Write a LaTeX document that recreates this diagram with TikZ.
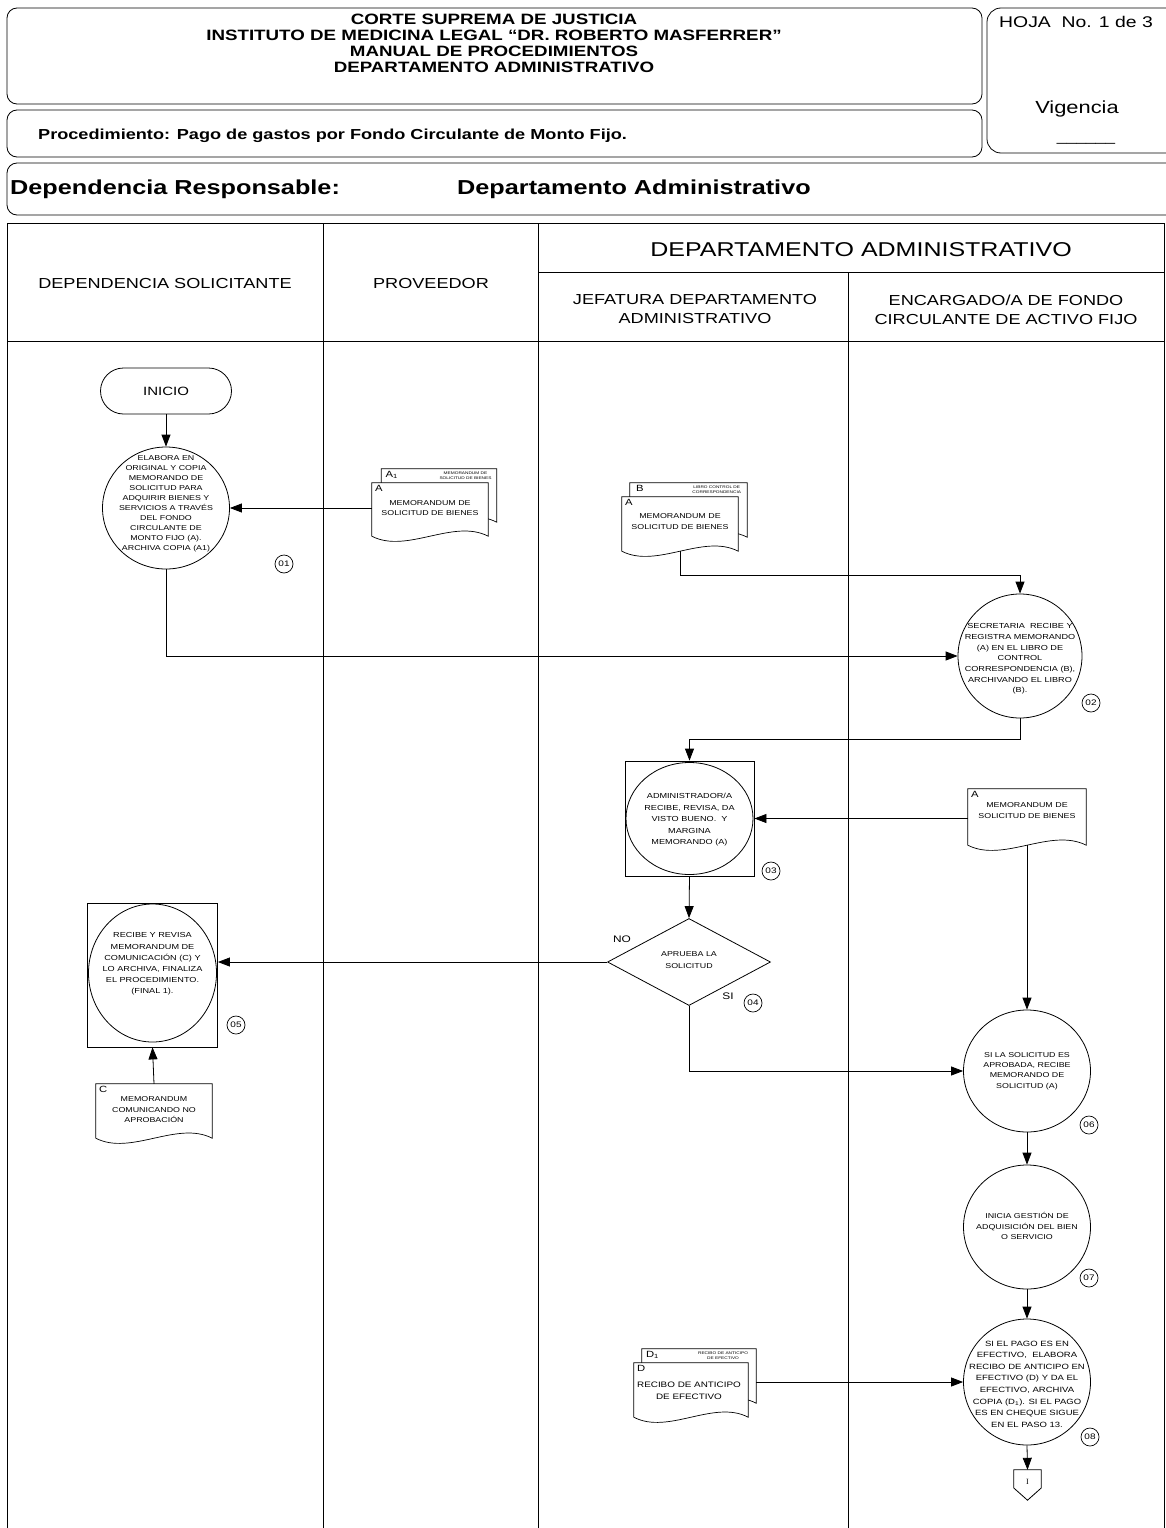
\documentclass[tikz,border=0pt]{standalone}
\usepackage{fontspec}
\setmainfont[FakeStretch=1.25]{Liberation Sans}
\newfontfamily\serifI{Liberation Serif}
\usetikzlibrary{shapes.geometric,arrows.meta,calc}
\newcommand{\fs}[2]{\fontsize{#1}{#2}\selectfont}
\newcommand{\docshape}[1]{\draw[fill=white, line width=0.7pt] (#1.north west) -- (#1.north east) -- (#1.south east)
  .. controls ($(#1.south west)!0.7!(#1.south east)+(0,-18)$) and ($(#1.south west)!0.3!(#1.south east)+(0,18)$) .. (#1.south west) -- cycle;}
\begin{document}
\begin{tikzpicture}[x=1pt,y=-1pt,
  hbox/.style={draw, rounded corners=10pt, line width=0.8pt},
  lane/.style={draw, line width=1pt},
  hdr/.style={align=center, inner sep=0pt, font=\fs{14.5}{19}},
  flow/.style={draw, line width=0.8pt, -{Triangle[length=12pt,width=9pt]}},
  proc/.style={ellipse, draw, line width=0.8pt, inner sep=0pt},
  sqbox/.style={rectangle, draw, line width=0.8pt, inner sep=0pt},
  ptext/.style={align=center, inner sep=0pt, font=\fs{7.1}{10}},
  num/.style={circle, draw, line width=0.7pt, minimum size=18pt, inner sep=0pt, font=\fs{8}{8}},
  docbox/.style={rectangle, inner sep=0pt},
  dtext/.style={align=center, inner sep=0pt, font=\fs{7.1}{10.5}},
  dletter/.style={inner sep=0pt, font=\fs{9}{9}},
  dtiny/.style={align=center, inner sep=0pt, font=\fs{3.8}{4.6}},
  lbl/.style={inner sep=0pt, font=\fs{9.5}{10}}
]
\useasboundingbox (0,0) rectangle (1165,1528);
\fill[white] (0,0) rectangle (1165,1528);

% ---------- header ----------
\draw[hbox] (7,8) rectangle (982,104);
\node[align=center, inner sep=0pt, font=\bfseries\fs{15}{16}] (title) at (494,43) {CORTE SUPREMA DE JUSTICIA\\INSTITUTO DE MEDICINA LEGAL “DR. ROBERTO MASFERRER”\\MANUAL DE PROCEDIMIENTOS\\DEPARTAMENTO ADMINISTRATIVO};
\draw[hbox] (7,110) rectangle (982,157);
\node[anchor=west, inner sep=0pt, font=\bfseries\fs{14.5}{16}] (proc) at (38,136) {Procedimiento: Pago de gastos por Fondo Circulante de Monto Fijo.};
\draw[hbox, rounded corners=14pt] (987,8) rectangle (1180,153);
\node[anchor=west, inner sep=0pt, font=\fs{15.5}{17}] (hoja) at (999,22) {HOJA\ \ No. 1 de 3};
\node[font=\fs{17.5}{20}] (vig) at (1077,109) {Vigencia};
\node[font=\fs{14}{16}] (vigl) at (1086,143) {\_\_\_\_\_\_};
\draw[hbox] (7,163) rectangle (1180,215);
\node[anchor=west, inner sep=0pt, font=\bfseries\fs{20.2}{22}] (depr) at (10,189) {Dependencia Responsable:};
\node[anchor=west, inner sep=0pt, font=\bfseries\fs{20.2}{22}] (depa) at (457,189) {Departamento Administrativo};

% ---------- lanes ----------
\draw[lane] (7,223) rectangle (1164,1540);
\draw[lane] (323,223) -- (323,1540);
\draw[lane] (538,223) -- (538,1540);
\draw[lane] (848,272) -- (848,1540);
\draw[lane] (538,272) -- (1164,272);
\draw[lane] (7,341) -- (1164,341);
\node[hdr, font=\fs{20}{22}] (hdep) at (861,250) {DEPARTAMENTO ADMINISTRATIVO};
\node[hdr] (hsol) at (165,284) {DEPENDENCIA SOLICITANTE};
\node[hdr] (hprov) at (431,284) {PROVEEDOR};
\node[hdr] (hjef) at (695,309) {JEFATURA DEPARTAMENTO\\ADMINISTRATIVO};
\node[hdr] (henc) at (1006,310) {ENCARGADO/A DE FONDO\\CIRCULANTE DE ACTIVO FIJO};

% ---------- step 01 ----------
\node[draw, line width=0.8pt, rounded corners=23pt, minimum width=131pt, minimum height=46pt, font=\fs{12}{12}] (inicio) at (166,391) {INICIO};
\node[proc, minimum width=127pt, minimum height=122pt] (c01) at (166,508) {};
\node[ptext] (t01) at (166,504) {ELABORA EN\\ORIGINAL Y COPIA\\MEMORANDO DE\\SOLICITUD PARA\\ADQUIRIR BIENES Y\\SERVICIOS A TRAVÉS\\DEL FONDO\\CIRCULANTE DE\\MONTO FIJO (A).\\ARCHIVA COPIA (A1)};
\node[num] (n01) at (284,564) {01};

% proveedor documents
\node[docbox, minimum width=115pt, minimum height=53pt] (dA1p) at (439,495.5) {};
\docshape{dA1p}
\node[dletter, anchor=north west] (lA1p) at ($(dA1p.north west)+(4,2)$) {A\textsubscript{1}};
\node[dtiny, anchor=north east] (xA1p) at ($(dA1p.north east)+(-5,3)$) {MEMORANDUM DE\\SOLICITUD DE BIENES};
\node[docbox, minimum width=116pt, minimum height=53pt] (dAp) at (430,509.5) {};
\docshape{dAp}
\node[dletter, anchor=north west] (lAp) at ($(dAp.north west)+(3,2)$) {A};
\node[dtext] (tAp) at ($(dAp.north)+(0,25)$) {MEMORANDUM DE\\SOLICITUD DE BIENES};

% jefatura documents
\node[docbox, minimum width=117pt, minimum height=54pt] (dBb) at (688.5,510) {};
\docshape{dBb}
\node[dletter, anchor=north west] (lBb) at ($(dBb.north west)+(6,2)$) {B};
\node[dtiny, anchor=north east] (xBb) at ($(dBb.north east)+(-6,3)$) {LIBRO CONTROL DE\\CORRESPONDENCIA};
\node[docbox, minimum width=116pt, minimum height=54pt] (dBf) at (680,524) {};
\docshape{dBf}
\node[dletter, anchor=north west] (lBf) at ($(dBf.north west)+(3,2)$) {A};
\node[dtext] (tBf) at ($(dBf.north)+(0,24.5)$) {MEMORANDUM DE\\SOLICITUD DE BIENES};

% step 02
\node[proc, minimum width=124pt, minimum height=124pt] (c02) at (1020,656) {};
\node[ptext, font=\fs{7.3}{10.7}] (t02) at (1020,659) {SECRETARIA\ \ RECIBE Y\\REGISTRA MEMORANDO\\(A) EN EL LIBRO DE\\CONTROL\\CORRESPONDENCIA (B),\\ARCHIVANDO EL LIBRO\\(B).};
\node[num] (n02) at (1091,703) {02};

% step 03
\node[sqbox, minimum width=129pt, minimum height=115pt] (sq03) at (689.5,818.5) {};
\node[proc, minimum width=127pt, minimum height=112pt] (e03) at (689.5,818.5) {};
\node[ptext, font=\fs{7.3}{11.5}] (t03) at (689.5,820) {ADMINISTRADOR/A\\RECIBE, REVISA, DA\\VISTO BUENO.\ \ Y\\MARGINA\\MEMORANDO (A)};
\node[num] (n03) at (771,871) {03};

% document A (encargado)
\node[docbox, minimum width=118pt, minimum height=56pt] (dA2) at (1027,817) {};
\docshape{dA2}
\node[dletter, anchor=north west] (lA2) at ($(dA2.north west)+(3,2)$) {A};
\node[dtext] (tA2) at ($(dA2.north)+(0,21.5)$) {MEMORANDUM DE\\SOLICITUD DE BIENES};

% step 04 decision
\node[diamond, draw, line width=0.8pt, minimum width=163pt, minimum height=87pt, inner sep=0pt] (dia) at (689,962) {};
\node[ptext, font=\fs{7.1}{12}] (tdia) at (689,960) {APRUEBA LA\\SOLICITUD};
\node[lbl] (lno) at (622,939) {NO};
\node[lbl] (lsi) at (728,996) {SI};
\node[num] (n04) at (753,1003) {04};

% step 05
\node[sqbox, minimum width=130pt, minimum height=144pt] (sq05) at (152.5,975) {};
\node[proc, minimum width=128pt, minimum height=138pt] (e05) at (152.5,973) {};
\node[ptext, font=\fs{7.3}{11.2}] (t05) at (152.5,964) {RECIBE Y REVISA\\MEMORANDUM DE\\COMUNICACIÓN (C) Y\\LO ARCHIVA, FINALIZA\\EL PROCEDIMIENTO.\\(FINAL 1).};
\node[num] (n05) at (236,1025) {05};

% document C
\node[docbox, minimum width=116pt, minimum height=54pt] (dC) at (154,1111) {};
\docshape{dC}
\node[dletter, anchor=north west] (lC) at ($(dC.north west)+(3,2)$) {C};
\node[dtext] (tC) at ($(dC.north)+(0,26)$) {MEMORANDUM\\COMUNICANDO NO\\APROBACIÓN};

% step 06-08
\node[proc, minimum width=127pt, minimum height=122pt] (c06) at (1027,1071) {};
\node[ptext, font=\fs{7.1}{10.4}] (t06) at (1027,1071) {SI LA SOLICITUD ES\\APROBADA, RECIBE\\MEMORANDO DE\\SOLICITUD (A)};
\node[num] (n06) at (1089,1125) {06};
\node[proc, minimum width=127pt, minimum height=124pt] (c07) at (1027,1227) {};
\node[ptext, font=\fs{7.1}{10.5}] (t07) at (1027,1226) {INICIA GESTIÓN DE\\ADQUISICIÓN DEL BIEN\\O SERVICIO};
\node[num] (n07) at (1089,1278) {07};
\node[proc, minimum width=127pt, minimum height=126pt] (c08) at (1027,1382) {};
\node[ptext, font=\fs{7.6}{11.6}] (t08) at (1027,1384) {SI EL PAGO ES EN\\EFECTIVO,\ \ ELABORA\\RECIBO DE ANTICIPO EN\\EFECTIVO (D) Y DA EL\\EFECTIVO, ARCHIVA\\COPIA (D\textsubscript{1}). SI EL PAGO\\ES EN CHEQUE SIGUE\\EN EL PASO 13.};
\node[num] (n08) at (1090,1437) {08};

% document D
\node[docbox, minimum width=114pt, minimum height=54pt] (dDb) at (699,1376) {};
\docshape{dDb}
\node[dletter, anchor=north west] (lDb) at ($(dDb.north west)+(4,2)$) {D\textsubscript{1}};
\node[dtiny, anchor=north east] (xDb) at ($(dDb.north east)+(-8,3)$) {RECIBO DE ANTICIPO\\DE EFECTIVO};
\node[docbox, minimum width=114pt, minimum height=54pt] (dDf) at (691,1390) {};
\docshape{dDf}
\node[dletter, anchor=north west] (lDf) at ($(dDf.north west)+(3,2)$) {D};
\node[dtext, font=\fs{7.9}{12}] (tDf) at ($(dDf.north)+(-2,28)$) {RECIBO DE ANTICIPO\\DE EFECTIVO};

% off-page connector
\node[docbox, minimum width=27pt, minimum height=30pt] (off1) at (1027.5,1485) {};
\draw[line width=0.8pt, fill=white] (off1.north west) -- (off1.north east) -- ($(off1.east)+(0,3)$) -- (off1.south) -- ($(off1.west)+(0,3)$) -- cycle;
\node[inner sep=0pt, font=\serifI\fs{8}{8}] (toff1) at (1027.5,1482) {I};

% ---------- connectors ----------
\coordinate (bend1) at (0,575);
\coordinate (bend2) at (0,739);
\draw[flow] (inicio.south) -- (c01.north);
\draw[flow] (dAp.west |- c01.east) -- (c01.east);
\draw[flow] (c01.south) |- (c02.west);
\draw[flow] (dBf.south) -- (dBf.south |- bend1) -| (c02.north);
\draw[flow] (c02.south) -- (c02.south |- bend2) -| (sq03.north);
\draw[flow] (dA2.west |- sq03.east) -- (sq03.east);
\draw[flow] (sq03.south) -- (dia.north);
\draw[flow] (dia.west) -- (dia.west -| sq05.east);
\draw[flow] (dC.north) -- (sq05.south);
\draw[flow] (dia.south) |- (c06.west);
\draw[flow] (dA2.south) -- (c06.north);
\draw[flow] (c06.south) -- (c07.north);
\draw[flow] (c07.south) -- (c08.north);
\draw[flow] (dDb.east |- c08.west) -- (c08.west);
\draw[flow] (c08.south) -- (off1.north);
\end{tikzpicture}
\end{document}
